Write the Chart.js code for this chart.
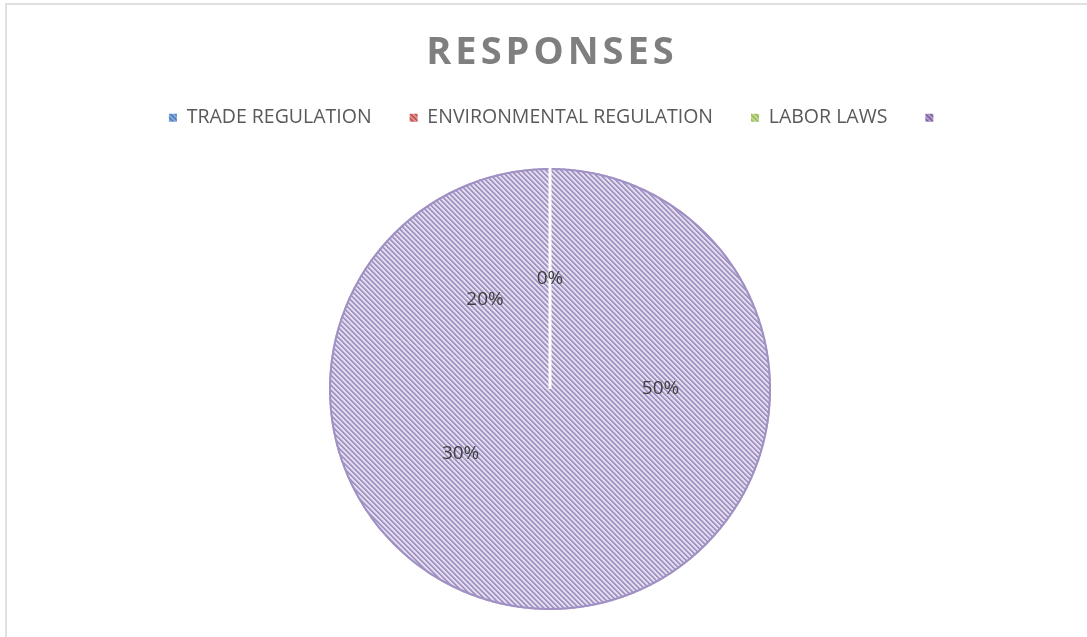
<!DOCTYPE html>
<html>
<head>
<meta charset="utf-8">
<script src="https://cdn.jsdelivr.net/npm/chart.js@4/dist/chart.umd.min.js"></script>
<style>
  body { margin: 0; background: #fff; }
  #wrap { position: relative; width: 1087px; height: 637px; }
  #wrap canvas { position: absolute; left: 0; top: 0; }
  .frame { position: absolute; left: 5px; top: 3px; right: 0; bottom: 0;
           border-left: 2px solid #e0e0e0; border-top: 2px solid #e0e0e0; pointer-events: none; }
</style>
</head>
<body>
<div id="wrap">
  <canvas id="responsesChart" width="1087" height="637"></canvas>
  <div class="frame"></div>
</div>
<script>
const chartTitle = 'RESPONSES';
const categories = ['TRADE REGULATION', 'ENVIRONMENTAL REGULATION', 'LABOR LAWS', ''];
const responses = [50, 30, 20, 0];
const legendColors = [['#4f81bd', '#7ea6da'], ['#c0504d', '#de8a88'], ['#9bbb59', '#bcd68b'], ['#8064a2', '#a995c6']];

// diagonal hatch like the office "wide downward diagonal" fill
const makeHatch = (dark, mid, light) => {
  const tile = document.createElement('canvas');
  tile.width = 5;
  tile.height = 5;
  const t = tile.getContext('2d');
  for (let y = 0; y < 5; y++) {
    for (let x = 0; x < 5; x++) {
      const k = ((x - y) % 5 + 5) % 5;
      t.fillStyle = k < 2 ? dark : (k === 2 ? mid : light);
      t.fillRect(x, y, 1, 1);
    }
  }
  return tile;
};

const canvas = document.getElementById('responsesChart');
const ctx = canvas.getContext('2d');
const pieFill = ctx.createPattern(makeHatch('#a194c3', '#c6bcdb', '#e4ddef'), 'repeat');
const legendFills = legendColors.map(c => ctx.createPattern(makeHatch(c[0], c[1], c[1]), 'repeat'));

// wrap a layout box's draw so it can be nudged / letter-spaced
const wrapDraw = (chart, box, dx, spacing) => {
  if (!box || box._wrapped) return;
  const draw = box.draw;
  box.draw = function () {
    chart.ctx.save();
    if (spacing) chart.ctx.letterSpacing = spacing;
    chart.ctx.translate(dx, 0);
    draw.apply(this, arguments);
    chart.ctx.restore();
  };
  box._wrapped = true;
};

const pieExtras = {
  id: 'pieExtras',
  beforeInit(chart) {
    const fit = chart.legend.fit;
    chart.legend.fit = function () {
      fit.call(this);
      this.height = 98;
    };
  },
  afterLayout(chart) {
    wrapDraw(chart, chart.titleBlock, 2, '4px');
    wrapDraw(chart, chart.legend, 6, null);
  },
  afterDatasetsDraw(chart) {
    const c = chart.ctx;
    const arcs = chart.getDatasetMeta(0).data;
    const first = arcs[0];
    const total = responses.reduce((a, b) => a + b, 0);
    c.save();
    // outline
    c.beginPath();
    c.arc(first.x, first.y, first.outerRadius - 1, 0, Math.PI * 2);
    c.strokeStyle = '#a090c4';
    c.lineWidth = 2;
    c.stroke();
    // white edge of the empty slice
    const zero = arcs[arcs.length - 1];
    c.beginPath();
    c.moveTo(zero.x, zero.y);
    c.lineTo(zero.x + Math.cos(zero.startAngle) * zero.outerRadius, zero.y + Math.sin(zero.startAngle) * zero.outerRadius);
    c.strokeStyle = '#ffffff';
    c.lineWidth = 3;
    c.stroke();
    // percentage labels
    c.font = '19px "Open Sans"';
    c.fillStyle = '#404040';
    c.textAlign = 'center';
    c.textBaseline = 'middle';
    arcs.forEach((arc, i) => {
      const pos = arc.tooltipPosition();
      c.fillText(Math.round(responses[i] / total * 100) + '%', pos.x, pos.y);
    });
    c.restore();
  }
};

new Chart(canvas, {
  type: 'pie',
  data: {
    labels: categories,
    datasets: [{
      label: chartTitle,
      data: responses,
      backgroundColor: pieFill,
      borderWidth: 0
    }]
  },
  options: {
    responsive: false,
    animation: false,
    layout: { padding: { top: 0, left: 13, right: 0, bottom: 27 } },
    plugins: {
      title: {
        display: true,
        text: chartTitle,
        color: '#7f7f7f',
        font: { family: '"Open Sans"', size: 38, weight: 'bold', lineHeight: 1 },
        padding: { top: 34.5, bottom: -2.5 }
      },
      legend: {
        position: 'top',
        labels: {
          boxWidth: 8,
          boxHeight: 8,
          padding: 38,
          color: '#595959',
          font: { family: '"Open Sans"', size: 19.5 },
          generateLabels(chart) {
            const base = Chart.overrides.pie.plugins.legend.labels.generateLabels(chart);
            return base.map((l, i) => Object.assign(l, { fillStyle: legendFills[i], strokeStyle: 'rgba(0,0,0,0)', lineWidth: 0, hidden: false }));
          }
        },
        onClick: null
      },
      tooltip: { enabled: false }
    }
  },
  plugins: [pieExtras]
});
</script>
</body>
</html>
